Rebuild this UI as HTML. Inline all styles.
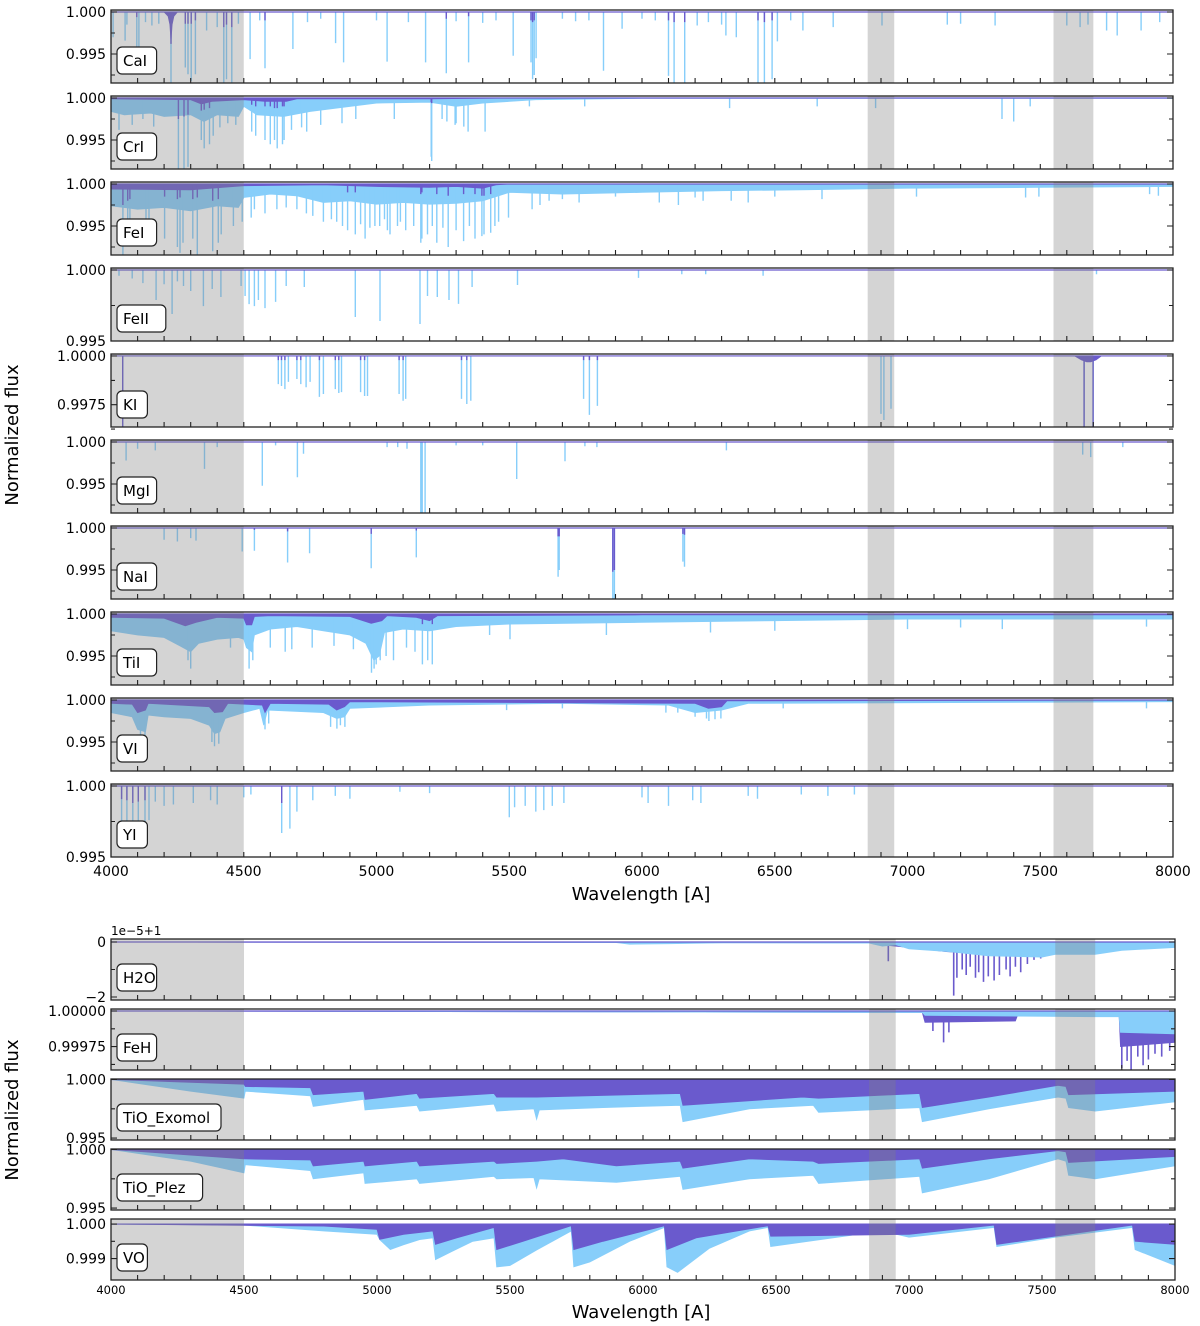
<!DOCTYPE html>
<html><head><meta charset="utf-8"><title>Normalized flux spectra</title>
<style>
html,body{margin:0;padding:0;background:#fff;}
svg{display:block;font-family:"DejaVu Sans","Liberation Sans",sans-serif;}
</style></head>
<body>
<svg id="fig" width="1200" height="1326" viewBox="0 0 1200 1326" xmlns="http://www.w3.org/2000/svg">
<rect x="0" y="0" width="1200" height="1326" fill="#fff"/>
<text x="18" y="435" font-size="18" text-anchor="middle" transform="rotate(-90 18 435)">Normalized flux</text>
<text x="641" y="900" font-size="18" text-anchor="middle">Wavelength [A]</text>
<text x="18" y="1110" font-size="18" text-anchor="middle" transform="rotate(-90 18 1110)">Normalized flux</text>
<text x="641" y="1318" font-size="18" text-anchor="middle">Wavelength [A]</text>
<text x="111" y="935" font-size="12">1e−5+1</text>
</svg>
<script>
// ---------- data ----------
const xTickLabels = ["4000","4500","5000","5500","6000","6500","7000","7500","8000"];
const grayBands = [[4000,4500],[6850,6950],[7550,7700]];

const caLines = [[4008,0.9970,null],[4053,0.9966,null],[4060,0.9985,null],[4097,0.9954,0.9994],[4105,0.9954,null],[4130,0.9988,null],[4154,0.9984,null],[4180,0.9986,null],[4226,0.9914,0.9962],[4280,0.9934,0.9986],[4290,0.9926,0.9986],[4302,0.9918,0.9986],[4318,0.9926,0.9990],[4360,0.9978,null],[4400,0.9982,null],[4425,0.9916,0.9982],[4435,0.9920,0.9985],[4455,0.9916,0.9982],[4480,0.9986,null],[4524,0.9944,null],[4560,0.9990,null],[4580,0.9933,0.9990],[4685,0.9956,null],[4740,0.9988,null],[4790,0.9992,null],[4846,0.9963,null],[4876,0.9940,null],[5000,0.9990,null],[5040,0.9941,null],[5120,0.9988,null],[5185,0.9940,null],[5263,0.9927,0.9992],[5300,0.9989,null],[5347,0.9940,0.9995],[5400,0.9987,null],[5450,0.9990,null],[5515,0.9948,null],[5582,0.9940,0.9990],[5588,0.9920,0.9988],[5594,0.9925,0.9990],[5601,0.9945,null],[5700,0.9992,null],[5750,0.9989,null],[5800,0.9990,null],[5855,0.9930,null],[5925,0.9980,null],[6000,0.9992,null],[6050,0.9990,null],[6100,0.9924,0.9990],[6121,0.9914,0.9988],[6161,0.9914,0.9988],[6208,0.9984,null],[6250,0.9988,null],[6300,0.9985,null],[6316,0.9972,null],[6355,0.9970,null],[6437,0.9914,0.9990],[6461,0.9914,0.9988],[6490,0.9920,0.9990],[6510,0.9965,null],[6560,0.9990,null],[6606,0.9978,null],[6720,0.9982,null],[6904,0.9984,null],[7150,0.9985,null],[7200,0.9986,null],[7330,0.9984,null],[7600,0.9984,null],[7650,0.9982,null],[7680,0.9985,null],[7750,0.9978,null],[7790,0.9972,null],[7880,0.9978,null],[7950,0.9988,null]];
const caDarkEnv = [[4200,1.0],[4215,0.9995],[4222,0.9985],[4226,0.9965],[4230,0.9985],[4237,0.9995],[4250,1.0]];

const crLightEnv = [[4000,0.9984],[4050,0.9980],[4150,0.9982],[4200,0.9978],[4300,0.9980],[4350,0.9972],[4400,0.9980],[4480,0.9978],[4500,0.9990],[4550,0.9980],[4650,0.9978],[4750,0.9984],[4850,0.9988],[5000,0.9994],[5200,0.9995],[5300,0.9990],[5400,0.9994],[5600,0.9998],[6000,0.99995],[8000,0.99995]];
const crDarkEnv = [[4000,0.9999],[4300,0.9998],[4340,0.9993],[4380,0.9996],[4500,0.9998],[4580,0.9996],[4660,0.9996],[4700,0.9999],[5200,0.9999],[5500,1.0],[8000,1.0]];
const crLines = [[4030,0.9962,null],[4080,0.9968,null],[4120,0.9975,null],[4161,0.9966,null],[4254,0.9914,0.9975],[4275,0.9914,0.9978],[4290,0.9918,0.9980],[4340,0.9950,0.9985],[4351,0.9940,0.9986],[4371,0.9945,0.9988],[4385,0.9955,null],[4410,0.9965,null],[4440,0.9970,null],[4470,0.9968,null],[4530,0.9960,0.9992],[4545,0.9955,0.9990],[4580,0.9950,0.9990],[4600,0.9945,0.9990],[4616,0.9950,0.9988],[4626,0.9940,0.9988],[4646,0.9945,0.9990],[4652,0.9950,0.9990],[4680,0.9962,null],[4718,0.9965,null],[4737,0.9960,null],[4790,0.9968,null],[4870,0.9970,null],[4922,0.9975,null],[5067,0.9975,null],[5206,0.9930,0.9995],[5208,0.9925,0.9994],[5247,0.9975,null],[5265,0.9972,null],[5296,0.9968,null],[5300,0.9970,null],[5329,0.9966,null],[5345,0.9960,null],[5409,0.9960,null],[5576,0.9990,null],[5784,0.9990,null],[6330,0.9988,null],[6660,0.9990,null],[6880,0.9988,null],[7356,0.9975,null],[7400,0.9972,null],[7462,0.9990,null]];

const feLightEnv = [[4000,0.9974],[4100,0.9970],[4200,0.9972],[4300,0.9968],[4400,0.9974],[4480,0.9972],[4500,0.9984],[4600,0.9988],[4700,0.9986],[4800,0.9978],[4900,0.9980],[5000,0.9976],[5100,0.9978],[5200,0.9976],[5300,0.9977],[5400,0.9980],[5500,0.9990],[5700,0.9988],[6000,0.9990],[6300,0.9992],[6600,0.9993],[7000,0.9995],[7500,0.9996],[8000,0.9997]];
const feDarkEnv = [[4000,0.9994],[4300,0.9993],[4500,0.9998],[4800,0.9999],[5000,0.9997],[5200,0.9996],[5300,0.9997],[5400,0.9995],[5450,0.9999],[5500,1.0],[8000,1.0]];
const feLines = [[4045,0.9914,0.9975],[4063,0.9930,0.9980],[4071,0.9935,0.9982],[4132,0.9940,null],[4143,0.9945,null],[4202,0.9935,0.9985],[4250,0.9925,0.9982],[4260,0.9918,0.9984],[4271,0.9930,null],[4308,0.9935,0.9982],[4325,0.9914,0.9984],[4383,0.9920,0.9980],[4404,0.9930,0.9982],[4415,0.9940,null],[4461,0.9950,null],[4494,0.9955,null],[4528,0.9960,null],[4540,0.9970,null],[4580,0.9965,null],[4625,0.9970,null],[4660,0.9972,null],[4700,0.9970,null],[4736,0.9965,null],[4760,0.9962,null],[4800,0.9955,null],[4830,0.9958,null],[4850,0.9955,null],[4872,0.9950,null],[4891,0.9945,0.9990],[4920,0.9940,0.9990],[4940,0.9952,null],[4957,0.9935,null],[4975,0.9948,null],[4994,0.9950,null],[5012,0.9950,null],[5030,0.9958,null],[5041,0.9945,null],[5051,0.9940,null],[5079,0.9950,null],[5090,0.9955,null],[5110,0.9945,null],[5140,0.9950,null],[5167,0.9930,0.9988],[5171,0.9935,0.9990],[5192,0.9940,null],[5210,0.9950,null],[5227,0.9930,0.9988],[5250,0.9948,null],[5270,0.9925,0.9986],[5300,0.9945,null],[5328,0.9932,0.9988],[5350,0.9950,null],[5371,0.9935,0.9988],[5397,0.9938,0.9986],[5405,0.9940,0.9986],[5430,0.9942,0.9988],[5446,0.9950,null],[5460,0.9955,null],[5497,0.9960,null],[5586,0.9970,null],[5616,0.9975,null],[5650,0.9980,null],[5700,0.9982,null],[5763,0.9978,null],[5900,0.9985,null],[6065,0.9978,null],[6137,0.9975,null],[6200,0.9984,null],[6230,0.9980,null],[6336,0.9980,null],[6400,0.9978,null],[6500,0.9985,null],[6678,0.9982,null],[7034,0.9985,null],[7445,0.9984,null],[7495,0.9985,null],[7912,0.9988,null],[7945,0.9986,null]];

const fe2Lines = [[4030,0.9996,null],[4080,0.9994,null],[4120,0.99908,null],[4170,0.99789,null],[4200,0.9990,null],[4230,0.99690,null],[4250,0.9992,null],[4273,0.99887,null],[4300,0.99852,null],[4348,0.99746,null],[4381,0.99866,null],[4414,0.99810,null],[4490,0.99887,null],[4505,0.99817,null],[4520,0.99760,null],[4540,0.99746,null],[4555,0.99789,null],[4580,0.99732,null],[4620,0.99775,null],[4660,0.99887,null],[4728,0.99880,null],[4920,0.99669,null],[5013,0.99641,null],[5164,0.99620,null],[5192,0.99817,null],[5229,0.99810,null],[5273,0.99789,null],[5309,0.99761,null],[5360,0.99880,null],[5531,0.99894,null],[5987,0.99944,null],[6150,0.9997,null],[6240,0.9997,null],[6456,0.9996,null],[7712,0.9997,null]];

const kLines = [[4044,0.99636,0.99636],[4630,0.99856,0.99979],[4642,0.99846,0.99979],[4655,0.99830,0.99979],[4668,0.99867,null],[4700,0.99882,0.99979],[4715,0.99856,0.99979],[4735,0.99840,null],[4750,0.99867,null],[4785,0.99790,0.99979],[4800,0.99805,null],[4845,0.99830,0.99979],[4858,0.99810,0.99979],[4868,0.99815,null],[4940,0.99815,0.99979],[4955,0.99795,0.99979],[4966,0.99795,null],[5085,0.99805,0.99979],[5100,0.99770,0.99979],[5110,0.99780,null],[5320,0.99780,0.99979],[5340,0.99754,0.99979],[5355,0.99770,null],[5780,0.99780,0.99979],[5802,0.99698,0.99979],[5832,0.99744,0.99979],[6900,0.99703,null],[6911,0.99672,null],[6938,0.99730,null],[7665,0.99636,0.99636],[7699,0.99636,0.99636]];
const kDarkEnv = [[7630,1.0],[7655,0.9998],[7675,0.9997],[7690,0.9997],[7710,0.9998],[7730,1.0]];

const mgLines = [[4057,0.9978,null],[4100,0.9992,null],[4167,0.9990,null],[4352,0.9968,null],[4400,0.9994,null],[4570,0.9948,null],[4620,0.9996,null],[4702,0.9958,null],[4725,0.9986,null],[5040,0.9994,null],[5080,0.9994,null],[5115,0.9992,null],[5167,0.9914,null],[5172,0.9914,null],[5183,0.9914,null],[5300,0.9996,null],[5400,0.9996,null],[5528,0.9956,null],[5710,0.9977,null],[5785,0.9995,null],[5830,0.9994,null],[6318,0.9990,null],[7660,0.9985,null],[7690,0.9982,null],[7811,0.9994,null]];

const naLines = [[4200,0.9986,null],[4250,0.9984,null],[4300,0.9988,null],[4320,0.9985,null],[4494,0.9972,null],[4540,0.9973,0.9998],[4665,0.9959,0.9996],[4748,0.9970,null],[4980,0.9952,0.9993],[5150,0.9965,0.9997],[5684,0.9942,0.9990],[5688,0.9950,0.9990],[5890,0.9914,0.9948],[5896,0.9914,0.9950],[6154,0.9960,0.9993],[6160,0.9954,0.9992]];

const tiLightEnv = [[4000,0.9980],[4100,0.9975],[4200,0.9972],[4260,0.9962],[4300,0.9955],[4330,0.9965],[4400,0.9970],[4480,0.9972],[4500,0.9970],[4510,0.9960],[4530,0.9955],[4540,0.9975],[4600,0.9982],[4700,0.9985],[4800,0.9980],[4900,0.9975],[4960,0.9965],[4990,0.9945],[5010,0.9950],[5030,0.9978],[5100,0.9982],[5200,0.9980],[5300,0.9985],[5500,0.9988],[6000,0.9990],[6500,0.9992],[7000,0.9994],[8000,0.9994]];
const tiDarkEnv = [[4000,0.9996],[4200,0.9995],[4280,0.9986],[4320,0.9990],[4400,0.9996],[4500,0.9995],[4510,0.9987],[4530,0.9987],[4540,0.9997],[4600,0.9998],[4900,0.9997],[4980,0.9989],[5020,0.9992],[5040,0.9998],[5150,0.9996],[5200,0.9992],[5230,0.9998],[6000,0.9999],[8000,0.9999]];
const tiLines = [[4290,0.9945,null],[4300,0.9935,null],[4450,0.9960,null],[4520,0.9935,null],[4534,0.9945,null],[4600,0.9960,null],[4656,0.9955,null],[4681,0.9958,null],[4758,0.9960,null],[4840,0.9962,null],[4913,0.9958,null],[4981,0.9930,null],[4991,0.9935,null],[4999,0.9940,null],[5014,0.9945,null],[5036,0.9950,null],[5064,0.9945,null],[5113,0.9960,null],[5145,0.9955,null],[5173,0.9940,0.9988],[5193,0.9945,null],[5210,0.9940,0.9988],[5426,0.9975,null],[5503,0.9970,null],[5866,0.9975,null],[6258,0.9978,null],[6500,0.9980,null],[7000,0.9982,null],[7200,0.9984,null],[7357,0.9982,null],[7900,0.9985,null]];

const vLightEnv = [[4000,0.9985],[4080,0.9980],[4100,0.9965],[4130,0.9962],[4140,0.9982],[4200,0.9980],[4300,0.9978],[4370,0.9970],[4390,0.9960],[4410,0.9962],[4430,0.9978],[4500,0.9985],[4560,0.9990],[4575,0.9970],[4590,0.9988],[4800,0.9985],[4850,0.9978],[4880,0.9980],[4900,0.9990],[5200,0.9994],[5700,0.9996],[6100,0.9994],[6200,0.9985],[6300,0.9988],[6400,0.9996],[8000,0.9998]];
const vDarkEnv = [[4000,0.9996],[4080,0.9995],[4100,0.9985],[4130,0.9988],[4140,0.9996],[4370,0.9992],[4390,0.9985],[4420,0.9986],[4440,0.9996],[4570,0.9994],[4580,0.9985],[4600,0.9996],[4820,0.9995],[4850,0.9988],[4880,0.9992],[4900,0.9998],[6200,0.9996],[6250,0.9990],[6300,0.9992],[6320,0.9999],[8000,1.0]];
const vLines = [[4111,0.9955,null],[4128,0.9958,null],[4380,0.9950,null],[4390,0.9945,null],[4406,0.9948,null],[4580,0.9965,null],[4594,0.9972,null],[4827,0.9968,null],[4851,0.9966,null],[4864,0.9970,null],[4881,0.9968,null],[5490,0.9988,null],[5700,0.9990,null],[6090,0.9985,null],[6135,0.9985,null],[6200,0.9980,null],[6243,0.9978,null],[6252,0.9975,null],[6275,0.9977,null],[6297,0.9978,null],[6532,0.9990,null],[7900,0.9990,null]];

const yLines = [[4040,0.99697,0.99908],[4060,0.99740,0.99900],[4082,0.99670,0.99880],[4103,0.99640,0.99890],[4128,0.99620,0.99900],[4143,0.99760,null],[4167,0.99890,null],[4200,0.99860,null],[4235,0.99870,null],[4310,0.99880,null],[4375,0.99900,null],[4400,0.99870,null],[4500,0.99920,null],[4527,0.99940,null],[4643,0.99669,0.99880],[4674,0.99700,null],[4700,0.99820,null],[4760,0.99900,null],[4845,0.99930,null],[4900,0.99910,null],[5088,0.99960,null],[5200,0.99950,null],[5500,0.99780,null],[5520,0.99850,null],[5560,0.99860,null],[5600,0.99820,null],[5630,0.99830,null],[5662,0.99860,null],[5706,0.99880,null],[6000,0.99920,null],[6023,0.99880,null],[6100,0.99860,null],[6191,0.99900,null],[6222,0.99880,null],[6400,0.99930,null],[6435,0.99910,null],[6600,0.99940,null],[6700,0.99930,null],[6800,0.99940,null]];

// bottom block (H2O in units of 1e-5 offset from 1)
const h2oLightEnv = [[4000,0],[5900,-0.02],[5950,-0.08],[6100,-0.06],[6300,-0.03],[6850,-0.04],[6900,-0.15],[6950,-0.1],[7000,-0.25],[7150,-0.35],[7300,-0.5],[7500,-0.55],[7550,-0.45],[7700,-0.45],[7800,-0.3],[8000,-0.2]];
const h2oDarkEnv = [[4000,0],[5900,-0.02],[6850,-0.03],[6900,-0.1],[7000,-0.2],[7140,-0.35],[7300,-0.45],[7500,-0.35],[7550,-0.25],[7600,-0.05],[8000,-0.02]];
const h2oDarkSpikes = [[6922,-0.7],[7168,-1.95],[7180,-1.3],[7200,-1.0],[7215,-1.2],[7230,-0.9],[7250,-1.3],[7262,-1.1],[7280,-1.45],[7298,-1.25],[7320,-1.4],[7340,-1.2],[7365,-1.0],[7380,-1.25],[7400,-0.9],[7420,-1.1],[7445,-0.8],[7470,-0.65],[7495,-0.6],[7520,-0.45]];

const fehLightEnv = [[4000,1.0],[7050,0.99999],[7060,0.99997],[7700,0.99996],[7790,0.99996],[7795,0.99985],[8000,0.99984]];
const fehDarkEnv = [[4000,1.0],[7050,0.99999],[7060,0.99992],[7400,0.99993],[7410,0.99998],[7790,0.99997],[7795,0.99975],[8000,0.99978]];
const fehDarkSpikes = [[7090,0.99986],[7130,0.99978],[7150,0.99985],[7800,0.99960],[7820,0.99965],[7835,0.99958],[7860,0.99968],[7880,0.99962],[7900,0.99966],[7925,0.99970],[7950,0.99968],[7980,0.99972]];

const tioExLightEnv = [[4000,1.0],[4300,0.9990],[4500,0.9984],[4505,0.9990],[4750,0.9986],[4760,0.9977],[4950,0.9983],[4955,0.9974],[5150,0.9978],[5160,0.9973],[5440,0.9979],[5450,0.9973],[5590,0.9975],[5600,0.9966],[5610,0.9974],[5850,0.9976],[6140,0.9978],[6150,0.9964],[6400,0.9975],[6640,0.9978],[6660,0.9972],[7040,0.9976],[7050,0.9964],[7300,0.9975],[7560,0.9985],[7590,0.9984],[7600,0.9976],[7700,0.9973],[8000,0.9981]];
const tioExDarkEnv = [[4000,1.0],[4500,0.9996],[4505,0.9994],[4750,0.9993],[4760,0.9987],[4950,0.9990],[4955,0.9983],[5150,0.9988],[5160,0.9984],[5440,0.9988],[5450,0.9985],[5600,0.9985],[6140,0.9988],[6150,0.9978],[6600,0.9985],[6660,0.9984],[7040,0.9988],[7050,0.9976],[7300,0.9985],[7560,0.9995],[7590,0.9994],[7600,0.9987],[8000,0.9990]];

const tioPlLightEnv = [[4000,1.0],[4300,0.9990],[4500,0.9980],[4505,0.9987],[4750,0.9982],[4760,0.9975],[4950,0.9980],[4955,0.9971],[5150,0.9975],[5160,0.9971],[5440,0.9977],[5450,0.9975],[5590,0.9976],[5600,0.9967],[5610,0.9975],[5900,0.9972],[6140,0.9977],[6150,0.9966],[6400,0.9975],[6640,0.9978],[6660,0.9971],[7040,0.9977],[7050,0.9963],[7300,0.9975],[7560,0.9992],[7590,0.9990],[7600,0.9978],[7700,0.9975],[8000,0.9986]];
const tioPlDarkEnv = [[4000,1.0],[4500,0.9992],[4750,0.9991],[4760,0.9986],[4950,0.9990],[4955,0.9986],[5150,0.9990],[5160,0.9986],[5440,0.9990],[5450,0.9988],[5600,0.9990],[5700,0.9992],[5900,0.9986],[6140,0.9990],[6150,0.9984],[6400,0.9992],[6640,0.9990],[6660,0.9988],[7040,0.9992],[7050,0.9984],[7300,0.9992],[7560,0.9999],[7590,0.9998],[7600,0.9989],[8000,0.9994]];

const voLightEnv = [[4000,1.0],[4500,0.99997],[4800,0.9998],[5000,0.99970],[5010,0.99955],[5050,0.99926],[5100,0.99940],[5160,0.99955],[5210,0.99960],[5220,0.99897],[5280,0.99920],[5360,0.99950],[5440,0.99960],[5450,0.99876],[5500,0.99880],[5600,0.99925],[5730,0.99980],[5740,0.99876],[5800,0.99890],[5950,0.99950],[6080,0.99990],[6090,0.99876],[6130,0.99860],[6250,0.99930],[6400,0.99980],[6470,0.99990],[6480,0.99935],[6900,0.99980],[7000,0.99962],[7320,0.99990],[7330,0.99935],[7550,0.99962],[7840,0.99990],[7850,0.99926],[8000,0.99880]];
const voDarkEnv = [[4000,1.0],[4800,0.99994],[5000,0.99985],[5010,0.99956],[5100,0.99970],[5210,0.99980],[5220,0.99941],[5300,0.99960],[5440,0.99990],[5450,0.99926],[5550,0.99950],[5730,0.99995],[5740,0.99926],[5850,0.99950],[6080,0.99995],[6090,0.99926],[6200,0.99960],[6470,0.99995],[6480,0.99965],[7000,0.99970],[7320,0.99997],[7330,0.99941],[7840,0.99997],[7850,0.99950],[8000,0.99941]];

// ---------- drawing ----------
const LIGHT = "#87cefa", DARK = "#6a5acd";
const svg = document.getElementById('fig');
const NS = "http://www.w3.org/2000/svg";
function mk(tag, attrs, parent){
  const e = document.createElementNS(NS, tag);
  for (const k in attrs) e.setAttribute(k, attrs[k]);
  (parent||svg).appendChild(e);
  return e;
}
let clipId = 0;
function panel(o){
  const g = mk('g', {});
  
  
  const xS = w => o.x0 + (w - 4000) * (o.x1 - o.x0) / 4000;
  const yS = v => o.top + (o.yhi - v) * o.h / (o.yhi - o.ylo);
  const cid = 'c' + (clipId++);
  const cp = mk('clipPath', {id: cid}, g);
  mk('rect', {x: o.x0, y: o.top, width: o.x1 - o.x0, height: o.h}, cp);
  const body = mk('g', {'clip-path': 'url(#' + cid + ')'}, g);
  function env(arr, color, nm){
    if (!arr) return;
    let d = 'M' + xS(arr[0][0]).toFixed(1) + ',' + yS(o.base).toFixed(1);
    arr.forEach(p => { d += 'L' + xS(p[0]).toFixed(1) + ',' + yS(p[1]).toFixed(1); });
    d += 'L' + xS(arr[arr.length-1][0]).toFixed(1) + ',' + yS(o.base).toFixed(1) + 'Z';
    const e = mk('path', {d: d, fill: color, stroke: color, 'stroke-width': 0.8}, body);
    
    
  }
  function lines(arr, idx, color, nm){
    if (!arr) return;
    let d = '';
    arr.forEach(p => { if (p[idx] !== null && p[idx] !== undefined) d += 'M' + xS(p[0]).toFixed(1) + ',' + yS(o.base).toFixed(1) + 'V' + yS(p[idx]).toFixed(1); });
    if (!d) return;
    const e = mk('path', {d: d, stroke: color, 'stroke-width': 1.4, fill: 'none'}, body);
    
    
  }
  function spikes(arr, color, nm){
    if (!arr) return;
    let d = '';
    arr.forEach(p => { d += 'M' + xS(p[0]).toFixed(1) + ',' + yS(o.base).toFixed(1) + 'V' + yS(p[1]).toFixed(1); });
    const e = mk('path', {d: d, stroke: color, 'stroke-width': 1.6, fill: 'none'}, body);
    
    
  }
  if (o.darkFirst){
    env(o.darkEnv, DARK, o.name + '-dark-model');
    spikes(o.darkSpikes, DARK, o.name + '-dark-lines');
    env(o.lightEnv, LIGHT, o.name + '-light-model');
  } else {
    env(o.lightEnv, LIGHT, o.name + '-light-model');
    lines(o.lines, 1, LIGHT, o.name + '-light-lines');
    env(o.darkEnv, DARK, o.name + '-dark-model');
    lines(o.lines, 2, DARK, o.name + '-dark-lines');
  }
  const c = mk('line', {x1: o.x0, x2: o.x1, y1: yS(o.base), y2: yS(o.base), stroke: DARK, 'stroke-width': 1.2}, body);
  
  
  grayBands.forEach(b => {
    const r = mk('rect', {x: xS(b[0]), y: o.top, width: xS(b[1]) - xS(b[0]), height: o.h, fill: 'rgba(128,128,128,0.34)'}, body);
    
    
  });
  const f = mk('rect', {x: o.x0, y: o.top, width: o.x1 - o.x0, height: o.h, fill: 'none', stroke: '#222', 'stroke-width': 1.3}, g);
  
  
  let td = '';
  for (let w = 4100; w < 8000; w += 100) td += 'M' + xS(w).toFixed(1) + ',' + (o.top + o.h) + 'v-5';
  o.yticks.forEach(t => { const y = yS(t[0]).toFixed(1); td += 'M' + o.x0 + ',' + y + 'h6M' + o.x1 + ',' + y + 'h-6'; });
  o.yminor.forEach(v => { const y = yS(v).toFixed(1); td += 'M' + o.x0 + ',' + y + 'h4M' + o.x1 + ',' + y + 'h-4'; });
  const tk = mk('path', {d: td, stroke: '#222', 'stroke-width': 1.1, fill: 'none'}, g);
  
  
  o.yticks.forEach(t => {
    const tx = mk('text', {x: o.x0 - 5, y: yS(t[0]) + 5, 'font-size': o.yfs, 'text-anchor': 'end'}, g);
    tx.textContent = t[1];
    
    
  });
  const bw = o.label.length * 9.2 + 12;
  const br = mk('rect', {x: o.x0 + 6, y: o.top + o.h - 36, width: bw, height: 27, rx: 5, fill: '#fff', stroke: '#222', 'stroke-width': 1.2}, g);
  
  
  const bt = mk('text', {x: o.x0 + 12, y: o.top + o.h - 17, 'font-size': 15}, g);
  bt.textContent = o.label;
  
  
  return xS;
}

const std = {ylo: 0.99155, yhi: 1.00024, base: 1.0, yticks: [[1.0, '1.000'], [0.995, '0.995']], yminor: [0.9975, 0.9925]};
const lowFive = {ylo: 0.995, yhi: 1.00014, base: 1.0, yticks: [[1.0, '1.000'], [0.995, '0.995']], yminor: [0.9975]};
const topPanels = [
  Object.assign({name: 'cai', label: 'CaI', lines: caLines, darkEnv: caDarkEnv}, std),
  Object.assign({name: 'cri', label: 'CrI', lines: crLines, lightEnv: crLightEnv, darkEnv: crDarkEnv}, std),
  Object.assign({name: 'fei', label: 'FeI', lines: feLines, lightEnv: feLightEnv, darkEnv: feDarkEnv}, std),
  Object.assign({name: 'feii', label: 'FeII', lines: fe2Lines}, lowFive),
  {name: 'ki', label: 'KI', lines: kLines, darkEnv: kDarkEnv, ylo: 0.99636, yhi: 1.0001, base: 1.0, yticks: [[1.0, '1.0000'], [0.9975, '0.9975']], yminor: [0.99875, 0.99625]},
  Object.assign({name: 'mgi', label: 'MgI', lines: mgLines}, std),
  Object.assign({name: 'nai', label: 'NaI', lines: naLines}, std),
  Object.assign({name: 'tii', label: 'TiI', lines: tiLines, lightEnv: tiLightEnv, darkEnv: tiDarkEnv}, std),
  Object.assign({name: 'vi', label: 'VI', lines: vLines, lightEnv: vLightEnv, darkEnv: vDarkEnv}, std),
  Object.assign({name: 'yi', label: 'YI', lines: yLines}, lowFive)
];
let xTop;
topPanels.forEach((p, i) => {
  p.top = 10 + i * 86; p.h = 73; p.x0 = 111; p.x1 = 1173; p.yfs = 14;
  xTop = panel(p);
});
xTickLabels.forEach(l => {
  const t = mk('text', {x: xTop(+l), y: 876, 'font-size': 14, 'text-anchor': 'middle'});
  t.textContent = l;
  
  
});

const botPanels = [
  {name: 'h2o', label: 'H2O', darkFirst: true, lightEnv: h2oLightEnv, darkEnv: h2oDarkEnv, darkSpikes: h2oDarkSpikes, ylo: -2.11, yhi: 0.11, base: 0, yticks: [[0, '0'], [-2, '−2']], yminor: [-1]},
  {name: 'feh', label: 'FeH', darkFirst: true, lightEnv: fehLightEnv, darkEnv: fehDarkEnv, darkSpikes: fehDarkSpikes, ylo: 0.999586, yhi: 1.0000143, base: 1.0, yticks: [[1.0, '1.00000'], [0.99975, '0.99975']], yminor: [0.999875, 0.999625]},
  {name: 'tio-exomol', label: 'TiO_Exomol', lightEnv: tioExLightEnv, darkEnv: tioExDarkEnv, ylo: 0.99484, yhi: 1.00004, base: 1.0, yticks: [[1.0, '1.000'], [0.995, '0.995']], yminor: [0.9975]},
  {name: 'tio-plez', label: 'TiO_Plez', lightEnv: tioPlLightEnv, darkEnv: tioPlDarkEnv, ylo: 0.99484, yhi: 1.00004, base: 1.0, yticks: [[1.0, '1.000'], [0.995, '0.995']], yminor: [0.9975]},
  {name: 'vo', label: 'VO', lightEnv: voLightEnv, darkEnv: voDarkEnv, ylo: 0.99838, yhi: 1.000147, base: 1.0, yticks: [[1.0, '1.000'], [0.999, '0.999']], yminor: [0.9995]}
];
let xBot;
botPanels.forEach((p, i) => {
  p.top = 939 + i * 70; p.h = 61; p.x0 = 111; p.x1 = 1175; p.yfs = 14;
  xBot = panel(p);
});
xTickLabels.forEach(l => {
  const t = mk('text', {x: xBot(+l), y: 1294, 'font-size': 11.5, 'text-anchor': 'middle'});
  t.textContent = l;
  
  
});
</script>
</body></html>
